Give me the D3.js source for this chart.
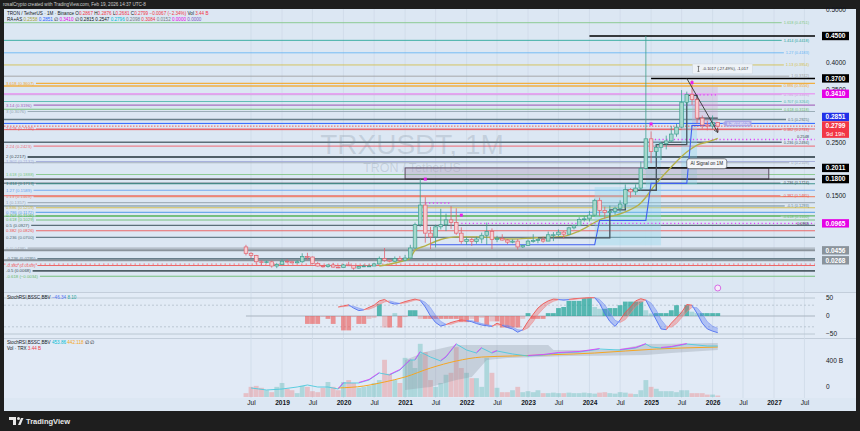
<!DOCTYPE html>
<html>
<head>
<meta charset="utf-8">
<script src="https://cdn.jsdelivr.net/npm/d3@7"></script>
<style>
  html, body { margin: 0; padding: 0; background: #1e1e1e; }
  svg { display: block; font-family: "Liberation Sans", Arial, sans-serif; }
</style>
</head>
<body>
<script>
// ----- data -----

// monthly candles: month, open, high, low, close
const ohlc = [
  ["2018-06",.052,.056,.036,.040],["2018-07",.040,.042,.031,.036],["2018-08",.036,.037,.019,.024],
  ["2018-09",.024,.027,.017,.023],["2018-10",.023,.026,.021,.024],["2018-11",.024,.026,.013,.016],
  ["2018-12",.016,.022,.012,.019],
  ["2019-01",.019,.029,.019,.025],["2019-02",.025,.029,.021,.024],["2019-03",.024,.025,.021,.022],
  ["2019-04",.022,.027,.021,.024],["2019-05",.024,.040,.022,.034],["2019-06",.034,.041,.028,.033],
  ["2019-07",.033,.034,.019,.021],["2019-08",.021,.024,.015,.016],["2019-09",.016,.018,.013,.015],
  ["2019-10",.015,.019,.013,.018],["2019-11",.018,.022,.013,.014],["2019-12",.014,.015,.012,.013],
  ["2020-01",.013,.020,.013,.018],["2020-02",.018,.024,.016,.017],["2020-03",.017,.018,.009,.012],
  ["2020-04",.012,.016,.011,.015],["2020-05",.015,.019,.014,.016],["2020-06",.016,.019,.015,.016],
  ["2020-07",.016,.022,.016,.020],["2020-08",.020,.034,.019,.030],["2020-09",.030,.050,.024,.027],
  ["2020-10",.027,.028,.023,.025],["2020-11",.025,.034,.024,.030],["2020-12",.030,.035,.025,.027],
  ["2021-01",.027,.037,.025,.031],["2021-02",.031,.056,.029,.050],["2021-03",.050,.098,.048,.094],
  ["2021-04",.094,.180,.090,.131],["2021-05",.131,.146,.060,.078],["2021-06",.078,.090,.048,.071],
  ["2021-07",.071,.094,.051,.090],["2021-08",.090,.124,.085,.094],["2021-09",.094,.115,.082,.103],
  ["2021-10",.103,.129,.086,.098],["2021-11",.098,.125,.075,.078],["2021-12",.078,.089,.058,.062],
  ["2022-01",.062,.071,.056,.066],["2022-02",.066,.069,.054,.062],["2022-03",.062,.071,.058,.067],
  ["2022-04",.067,.079,.059,.074],["2022-05",.074,.098,.056,.081],["2022-06",.081,.087,.048,.066],
  ["2022-07",.066,.073,.061,.068],["2022-08",.068,.076,.064,.065],["2022-09",.065,.067,.057,.061],
  ["2022-10",.061,.066,.059,.063],["2022-11",.063,.067,.047,.052],["2022-12",.052,.056,.050,.055],
  ["2023-01",.055,.066,.054,.063],["2023-02",.063,.076,.060,.064],["2023-03",.064,.068,.059,.066],
  ["2023-04",.066,.071,.060,.063],["2023-05",.063,.081,.063,.075],["2023-06",.075,.080,.063,.075],
  ["2023-07",.075,.085,.072,.080],["2023-08",.080,.082,.068,.076],["2023-09",.076,.090,.075,.088],
  ["2023-10",.088,.094,.085,.092],["2023-11",.092,.108,.092,.104],["2023-12",.104,.110,.100,.105],
  ["2024-01",.105,.120,.100,.112],["2024-02",.112,.143,.110,.140],["2024-03",.140,.145,.110,.121],
  ["2024-04",.121,.128,.105,.117],["2024-05",.117,.130,.112,.119],["2024-06",.119,.128,.113,.125],
  ["2024-07",.125,.140,.118,.133],["2024-08",.133,.170,.125,.160],["2024-09",.160,.163,.145,.156],
  ["2024-10",.156,.170,.150,.163],["2024-11",.163,.213,.158,.200],["2024-12",.200,.450,.198,.256],
  ["2025-01",.256,.270,.210,.232],["2025-02",.232,.245,.220,.240],["2025-03",.240,.250,.216,.247],
  ["2025-04",.247,.262,.236,.252],["2025-05",.252,.280,.250,.265],["2025-06",.265,.285,.260,.278],
  ["2025-07",.278,.348,.276,.325],["2025-08",.325,.345,.318,.340],["2025-09",.340,.367,.320,.330],
  ["2025-10",.330,.335,.285,.295],["2025-11",.295,.300,.275,.282],["2025-12",.282,.290,.272,.280],
  ["2026-01",.280,.300,.274,.287],["2026-02",.2867,.2876,.2681,.2799]
];

// monthly volume (B), same months as the candles
const volumes = [
  0.8,2.1,2.3,1.9,1.4,1.0,2.1,
  2.9,1.7,1.4,0.8,2.3,2.1,1.2,1.0,1.9,3.1,2.1,1.4,
  3.1,3.5,2.9,1.9,2.1,2.3,2.9,3.5,7.7,4.8,3.5,2.9,
  8.1,7.7,6.0,11.0,9.3,3.5,2.1,2.9,4.6,5.0,10.3,6.0,
  5.0,3.9,3.9,2.1,8.1,5.0,1.9,1.0,1.0,1.4,2.1,1.0,
  1.2,1.0,1.4,0.8,0.8,0.9,0.8,0.8,0.9,0.8,0.8,0.9,
  0.8,0.7,0.9,1.0,0.8,0.7,1.0,0.9,0.7,0.6,1.4,3.5,
  2.1,1.7,1.2,1.2,1.2,1.0,1.4,1.4,0.8,0.8,0.8,0.5,
  0.5,0.3
];

// slow moving average (olive line)
const maPoints = [
  ["2020-08",.016],["2020-12",.024],["2021-02",.031],["2021-03",.046],["2021-05",.054],
  ["2021-08",.066],["2021-11",.071],["2022-03",.071],["2022-10",.067],["2023-02",.069],
  ["2023-08",.072],["2023-11",.082],["2024-03",.103],["2024-08",.118],["2024-11",.135],
  ["2025-02",.172],["2025-05",.203],["2025-08",.231],["2025-10",.244],["2025-12",.250],["2026-02",.257]
];

// trailing stop lines
const blueSteps = [
  ["2021-06",.056],["2024-02",.056],["2024-03",.102],["2024-12",.102],
  ["2025-01",.172],["2025-08",.172],["2025-09",.281],["2026-02",.281]
];
const darkSteps = [
  ["2023-03",.069],["2024-05",.122],["2024-08",.159],["2025-02",.245],
  ["2025-08",.338],["2025-10",.295],["2026-02",.295]
];

// shaded zones: start, end, low, high
const cyanZones = [
  ["2024-02","2024-12",.055,.165],["2024-12","2025-03",.055,.255],["2025-07","2025-10",.170,.340]
];
const pinkZone = ["2025-09","2026-02",.278,.354];
const supplyBox = ["2021-01","2026-12",.1800,.2011];

// fibonacci sets
const leftFibLevels = [3.618,3.14,3,2.618,2.24,2,1.902,1.618,1.414,1.27,1.13,1,0.886,0.786,0.707,0.618,0.5,0.382,0.236,0,-0.236,-0.382,-0.5,-0.618];
const leftFibPrices = [.3607,.3196,.3076,.2746,.2423,.2217,.2132,.1888,.1713,.1589,.1469,.1357,.1259,.1172,.1106,.1029,.0927,.0826,.0700,.0498,.0295,.0169,.0068,-.0034];
const rightFibLevels = [1.618,1.414,1.27,1.13,1,0.886,0.786,0.707,0.618,0.5,0.382,0.236,0,-0.236,-0.382,-0.5,-0.618];
const rightFibPrices = [.4751,.4418,.4183,.3954,.3742,.3556,.3393,.3264,.3118,.2925,.2733,.2494,.2109,.1724,.1485,.1293,.1100];

// marked levels on the price scale
const boxPrices = [.4500,.3700,.3410,.2851,.2011,.1800,.0965,.0456,.0268];
const lastPrice = .2799;
const priceTicks = [.5,.4,.35,.25,.15];

// dotted levels: start, end (null = right edge), price
const dottedLevels = [["2021-05","2021-10",.135],["2021-12",null,.0965],["2025-01",null,.2548],["2025-09","2026-02",.339]];
const markers = [["2021-05",.180],["2021-12",.112],["2025-01",.284],["2025-09",.362]];
const arrowFromTo = [["2025-08",.370],["2026-02",.2683]];
const measureAt = ["2026-03",.388];
const aiSignalAt = ["2025-08",.209];
const tagAt = ["2026-03",.2851];

// StochRSI pane
const stochStart = "2019-12";
const stochK = [25,28,31,22,15,17,24,30,42,46,37,33,35,40,44,47,43,25,0,-18,
  -28,-24,-18,-14,-11,-13,-16,-21,-25,-27,-29,-20,-26,-32,-36,-45,-38,-15,5,22,
  34,42,47,46,44,46,48,49,50,51,51,35,7,-15,-29,-11,10,25,42,48,
  44,16,-11,-36,-38,-20,-5,10,32,30,7,-20,-36,-42,-46.34];
const stochD = [25,26,28,27,22,18,19,24,32,39,42,38,35,36,40,44,45,38,23,2,
  -15,-23,-23,-18,-14,-13,-13,-17,-21,-24,-27,-25,-25,-26,-31,-38,-40,-33,-16,4,
  20,33,41,45,46,45,46,48,49,50,51,46,31,9,-12,-18,-10,8,26,38,
  45,36,16,-10,-28,-31,-21,-5,12,24,23,6,-16,-28,-34];
const histStart = "2019-06";
const stochHist = [-22,-22,-22,-2,-8,-22,-2,-40,-40,-3,-22,-22,-8,-5,33,-32,-32,8,-32,-3,
  16,16,-8,-8,-8,-8,-8,-8,-8,-8,-17,-17,-8,-17,-5,-25,-15,-15,-32,-32,
  -32,-32,-8,8,-8,-8,-8,8,8,22,25,42,42,42,50,50,25,20,20,22,
  22,30,40,40,40,40,16,7,8,8,8,16,30,12,30,12,8,8,8,8,8];

// lower oscillator pane (B units)
const oscCyan = [
  ["2018-07",-15],["2018-10",-46],["2019-01",-31],["2019-04",0],["2019-06",31],["2019-08",0],
  ["2019-10",0],["2019-12",-31],["2020-01",62],["2020-04",62],["2020-06",108],["2020-08",215],
  ["2020-10",185],["2020-12",261],["2021-02",415],["2021-03",415],["2021-04",538],["2021-06",461],
  ["2021-08",400],["2021-09",461],["2021-11",661],["2022-01",569],["2022-03",523],["2022-04",600],
  ["2022-06",523],["2022-07",554],["2022-10",508],["2023-01",477],["2023-04",492],["2023-07",523],
  ["2023-11",538],["2024-03",584],["2024-07",569],["2024-10",600],["2024-12",661],["2025-01",615],
  ["2025-03",600],["2025-05",615],["2025-08",661],["2025-10",646],["2025-12",631],["2026-02",631]
];
const oscOrange = [
  ["2019-12",-15],["2020-05",15],["2020-09",77],["2021-01",154],["2021-06",292],["2021-11",400],
  ["2022-04",461],["2022-10",477],["2023-04",492],["2023-10",508],["2024-02",523],["2024-08",554],
  ["2025-02",584],["2025-07",600],["2026-02",615]
];
const cloudUpper = [["2021-01",415],["2021-05",538],["2021-11",646],["2023-05",646],["2023-06",569],["2024-06",569],["2024-12",661],["2026-02",677]];
const cloudLower = [["2021-01",-46],["2021-06",0],["2021-11",108],["2022-02",154],["2022-05",415],["2022-09",446],["2023-09",477],["2024-12",492],["2025-05",523],["2026-02",569]];

const timeTicks = ["2018-07","2019-01","2019-07","2020-01","2020-07","2021-01","2021-07","2022-01","2022-07",
  "2023-01","2023-07","2024-01","2024-07","2025-01","2025-07","2026-01","2026-07","2027-01","2027-07"];

// ----- layout -----
const W = 860, H = 431;
const plotL = 4, plotR = 815, axisX = 822;
const mainTop = 9, mainBot = 292, stochTop = 293, stochBot = 338, oscTop = 339, oscBot = 398;

const parseMonth = d3.utcParse("%Y-%m");
const fmt4 = d3.format(".4f");

const x = d3.scaleUtc().domain([parseMonth("2019-01"), parseMonth("2027-01")]).range([282, 774]);
const y = d3.scaleLinear().domain([0, 0.45]).range([274.5, 36]);
const yStoch = d3.scaleLinear().domain([-50, 50]).range([334, 298]);
const yOsc = d3.scaleLinear().domain([0, 400]).range([387, 361]);
const yVol = d3.scaleLinear().domain([0, 12]).range([397, 339]);

const candles = ohlc.map((r, i) => ({ date: parseMonth(r[0]), o: r[1], h: r[2], l: r[3], c: r[4], v: volumes[i] }));
const xm = m => m === null ? plotR : x(parseMonth(m));

const svg = d3.select("body").append("svg").attr("width", W).attr("height", H);

// frame and pane backgrounds
svg.append("rect").attr("width", W).attr("height", H).attr("fill", "#1e1e1e");
svg.append("rect").attr("x", plotL).attr("y", mainTop).attr("width", 856 - plotL).attr("height", 411 - mainTop).attr("fill", "#dce7f3");
svg.append("rect").attr("x", plotL).attr("y", stochTop).attr("width", 856 - plotL).attr("height", stochBot - stochTop).attr("fill", "#e2ebf6");
svg.append("rect").attr("x", plotL).attr("y", oscTop).attr("width", 856 - plotL).attr("height", oscBot - oscTop).attr("fill", "#e1eaf6");
[mainBot + 0.5, stochBot + 0.5].forEach(v => {
  svg.append("line").attr("x1", plotL).attr("x2", 856).attr("y1", v).attr("y2", v).attr("stroke", "#c3cedb").attr("stroke-width", 1);
});

svg.append("text").attr("x", 3).attr("y", 6).attr("font-size", 4.6).attr("fill", "#cfcfcf")
  .text("rosalCrypto created with TradingView.com, Feb 19, 2026 14:37 UTC-8");

// vertical grid
svg.append("g").selectAll("line").data(timeTicks).join("line")
  .attr("x1", d => xm(d)).attr("x2", d => xm(d)).attr("y1", mainTop).attr("y2", oscBot)
  .attr("stroke", "#cfdbe8").attr("stroke-width", 0.8);

// ----- main price pane -----
svg.append("clipPath").attr("id", "mainClip").append("rect")
  .attr("x", plotL).attr("y", mainTop).attr("width", plotR - plotL).attr("height", mainBot - mainTop);
const main = svg.append("g").attr("clip-path", "url(#mainClip)");

// watermark
main.append("text").attr("x", 412).attr("y", 154).attr("text-anchor", "middle")
  .attr("font-size", 28).attr("fill", "rgba(110,125,140,0.22)").text("TRXUSDT, 1M");
main.append("text").attr("x", 412).attr("y", 172).attr("text-anchor", "middle")
  .attr("font-size", 12.5).attr("fill", "rgba(110,125,140,0.22)").text("TRON / TetherUS");

// shaded zones
main.selectAll(".cyanZone").data(cyanZones).join("rect").attr("class", "cyanZone")
  .attr("x", d => xm(d[0])).attr("width", d => xm(d[1]) - xm(d[0]))
  .attr("y", d => y(d[3])).attr("height", d => y(d[2]) - y(d[3]))
  .attr("fill", "rgba(140,215,235,0.35)");
main.append("rect")
  .attr("x", xm(pinkZone[0])).attr("width", xm(pinkZone[1]) - xm(pinkZone[0]))
  .attr("y", y(pinkZone[3])).attr("height", y(pinkZone[2]) - y(pinkZone[3]))
  .attr("fill", "rgba(205,160,205,0.3)");

// fib lines
const leftFibColors = ["#f5a623","#a05cb8","#90a4ae","#e8505b","#ef6f7a","#37474f","#9fa8da","#81c784","#26867c","#64a0f0","#f08060","#9aa7b3",
  "#d4b83a","#5aa0e8","#4caf50","#66bb6a","#455a64","#ef5350","#546e7a","#a0aab4","#546e7a","#ef5350","#37474f","#66bb6a"];
const rightFibColors = ["#81c784","#26a69a","#64b5f6","#d4c04a","#9e9e9e","#f5a623","#ce93d8","#4db6ac","#66bb6a","#546e7a","#ef5350","#455a64",
  "#a0aab4","#37474f","#ef5350","#607d8b","#66bb6a"];
const thickLevels = [2, -0.236, -0.5];

rightFibLevels.forEach((lv, i) => {
  const py = y(rightFibPrices[i]);
  const t = main.append("text").attr("x", 809).attr("y", py + 1.3).attr("text-anchor", "end")
    .attr("font-size", 3.9).attr("fill", rightFibColors[i]).text(lv + " (" + fmt4(rightFibPrices[i]) + ")");
  const w = t.node().getComputedTextLength();
  main.insert("line", "text").attr("x1", plotL).attr("x2", 809 - w - 2).attr("y1", py).attr("y2", py)
    .attr("stroke", rightFibColors[i]).attr("stroke-width", (lv === 0.5 || lv === 0.236 || lv === 0.886) ? 1.6 : 1).attr("opacity", 0.85);
});

leftFibLevels.forEach((lv, i) => {
  const py = y(leftFibPrices[i]);
  const t = main.append("text").attr("x", 6).attr("y", py + 1.5)
    .attr("font-size", 4.3).attr("fill", leftFibColors[i]).text(lv + " (" + fmt4(leftFibPrices[i]) + ")");
  const w = t.node().getComputedTextLength();
  main.insert("line", "text").attr("x1", 6 + w + 2).attr("x2", plotR).attr("y1", py).attr("y2", py)
    .attr("stroke", leftFibColors[i]).attr("stroke-width", thickLevels.includes(lv) ? 1.8 : 1.1).attr("opacity", 0.85);
});

// supply box between 0.18 and 0.2011
main.append("rect")
  .attr("x", xm(supplyBox[0])).attr("width", xm(supplyBox[1]) - xm(supplyBox[0]))
  .attr("y", y(supplyBox[3])).attr("height", y(supplyBox[2]) - y(supplyBox[3]))
  .attr("fill", "rgba(170,145,180,0.35)").attr("stroke", "#5d4a63").attr("stroke-width", 1);

// key horizontal levels (from: null = whole width)
const keyLines = [
  { p: .4500, from: "2024-01", color: "#000", w: 1.5 },
  { p: .3700, from: "2025-01", color: "#000", w: 1.5 },
  { p: .3410, from: null, color: "#e6a3f2", w: 1.6 },
  { p: .2851, from: null, color: "#2962ff", w: 1 },
  { p: .2011, from: "2024-12", color: "#222", w: 1.6 },
  { p: .1800, from: null, color: "#2a2a2a", w: 1.4 },
  { p: .0456, from: null, color: "#8a939b", w: 2 },
  { p: .0268, from: null, color: "#8a939b", w: 2 }
];
main.selectAll(".keyLine").data(keyLines).join("line").attr("class", "keyLine")
  .attr("x1", d => d.from === null ? plotL : xm(d.from)).attr("x2", plotR)
  .attr("y1", d => y(d.p)).attr("y2", d => y(d.p))
  .attr("stroke", d => d.color).attr("stroke-width", d => d.w);

// current price line and low dotted level
main.append("line").attr("x1", plotL).attr("x2", plotR).attr("y1", y(lastPrice)).attr("y2", y(lastPrice))
  .attr("stroke", "#ef5350").attr("stroke-width", 0.9).attr("stroke-dasharray", "1.5,1.5");
main.append("line").attr("x1", plotL).attr("x2", plotR).attr("y1", y(.0195)).attr("y2", y(.0195))
  .attr("stroke", "#f08a96").attr("stroke-width", 1.2).attr("stroke-dasharray", "1.5,3");

// magenta dotted levels
main.selectAll(".dotLevel").data(dottedLevels).join("line").attr("class", "dotLevel")
  .attr("x1", d => xm(d[0])).attr("x2", d => xm(d[1]))
  .attr("y1", d => y(d[2])).attr("y2", d => y(d[2]))
  .attr("stroke", "#e040fb").attr("stroke-width", 1.4).attr("stroke-dasharray", "1.2,2.6");
main.append("text").attr("x", 809).attr("y", y(.2548) - 1.5).attr("text-anchor", "end").attr("font-size", 3.9).attr("fill", "#37474f").text("0.2548");
main.append("text").attr("x", 809).attr("y", y(.0965) + 1.3).attr("text-anchor", "end").attr("font-size", 3.9).attr("fill", "#37474f").text("0.0965");

// moving average
main.append("path").datum(maPoints)
  .attr("d", d3.line().x(d => xm(d[0])).y(d => y(d[1])).curve(d3.curveMonotoneX))
  .attr("fill", "none").attr("stroke", "#b5b04a").attr("stroke-width", 1.4);

// trailing lines
main.append("path").datum(blueSteps)
  .attr("d", d3.line().x(d => xm(d[0])).y(d => y(d[1])))
  .attr("fill", "none").attr("stroke", "#3f5ff0").attr("stroke-width", 1.1);
main.append("path").datum(darkSteps)
  .attr("d", d3.line().x(d => xm(d[0])).y(d => y(d[1])).curve(d3.curveStepAfter))
  .attr("fill", "none").attr("stroke", "#46525d").attr("stroke-width", 1.3);

// candles
const candleW = 3.6;
main.selectAll(".wick").data(candles).join("line").attr("class", "wick")
  .attr("x1", d => x(d.date)).attr("x2", d => x(d.date))
  .attr("y1", d => y(d.h)).attr("y2", d => y(d.l))
  .attr("stroke", d => d.c >= d.o ? "#3f9f8f" : "#e0626e").attr("stroke-width", 0.8);
main.selectAll(".body").data(candles).join("rect").attr("class", "body")
  .attr("x", d => x(d.date) - candleW / 2).attr("width", candleW)
  .attr("y", d => y(Math.max(d.o, d.c)))
  .attr("height", d => Math.max(0.8, Math.abs(y(d.o) - y(d.c))))
  .attr("fill", d => d.c >= d.o ? "#a6d8cc" : "#f6cfd3")
  .attr("stroke", d => d.c >= d.o ? "#3f9f8f" : "#e0626e").attr("stroke-width", 0.7);

// signal markers
main.selectAll(".marker").data(markers).join("rect").attr("class", "marker")
  .attr("x", d => xm(d[0]) - 1.5).attr("y", d => y(d[1]) - 1.5).attr("width", 3).attr("height", 3)
  .attr("fill", "#e91ee8");

// measuring arrow
svg.append("defs").append("marker").attr("id", "arrowHead").attr("viewBox", "0 0 10 10")
  .attr("refX", 9).attr("refY", 5).attr("markerWidth", 5).attr("markerHeight", 5).attr("orient", "auto")
  .append("path").attr("d", "M0,0 L10,5 L0,10").attr("fill", "none").attr("stroke", "#333").attr("stroke-width", 1.5);
main.append("line")
  .attr("x1", xm(arrowFromTo[0][0])).attr("y1", y(arrowFromTo[0][1]))
  .attr("x2", xm(arrowFromTo[1][0])).attr("y2", y(arrowFromTo[1][1]))
  .attr("stroke", "#333").attr("stroke-width", 0.9).attr("marker-end", "url(#arrowHead)");

const mx = xm(measureAt[0]), my = y(measureAt[1]);
main.append("rect").attr("x", mx - 30).attr("y", my - 5).attr("width", 60).attr("height", 10).attr("rx", 1)
  .attr("fill", "#eef2f7").attr("stroke", "#c9d2dc").attr("stroke-width", 0.5);
main.append("path").attr("d", `M${mx - 25},${my - 2.5} h2 M${mx - 24},${my - 2.5} v5 M${mx - 25},${my + 2.5} h2`)
  .attr("stroke", "#333").attr("stroke-width", 0.6);
main.append("text").attr("x", mx - 20).attr("y", my + 1.4).attr("font-size", 4).attr("fill", "#333")
  .text("-0.1017 (-27.49%), -1,017");

// AI signal label
const ax = xm(aiSignalAt[0]), ay = y(aiSignalAt[1]);
main.append("rect").attr("x", ax).attr("y", ay - 5).attr("width", 40).attr("height", 10).attr("rx", 2.5)
  .attr("fill", "#f4f6f9").attr("stroke", "#3a3f45").attr("stroke-width", 0.6);
main.append("text").attr("x", ax + 20).attr("y", ay + 1.6).attr("text-anchor", "middle").attr("font-size", 4.6)
  .attr("fill", "#222").text("AI Signal on 1M");

// price tag
const tx = xm(tagAt[0]), ty = y(tagAt[1]);
main.append("path").attr("d", `M${tx},${ty} l3,-3 h26 v6 h-26 z`).attr("fill", "#a7a3e6").attr("opacity", 0.9);
main.append("text").attr("x", tx + 16).attr("y", ty + 1.3).attr("text-anchor", "middle").attr("font-size", 3.6)
  .attr("fill", "#fff").text("0.2851185125");

// alert icon at bottom of pane
svg.append("circle").attr("cx", x(candles[candles.length - 1].date)).attr("cy", 288).attr("r", 3)
  .attr("fill", "#f6eafa").attr("stroke", "#d04ee0").attr("stroke-width", 0.8);

// ----- price scale -----
const priceAxis = svg.append("g").attr("transform", `translate(${axisX + 4},0)`)
  .call(d3.axisRight(y).tickValues(priceTicks).tickSize(0).tickPadding(0).tickFormat(fmt4));
priceAxis.select(".domain").remove();
priceAxis.selectAll("text").attr("font-size", 6.5).attr("fill", "#131722").attr("font-family", "Liberation Sans, Arial, sans-serif");

const boxColors = ["#000","#000","#e600e6","#2130e8","#000","#000","#e600e6","#8a939b","#8a939b"];
const redTop = y(lastPrice) - 4.8;
boxPrices.forEach((p, i) => {
  let cy = y(p);
  if (p === .2851) cy = Math.min(cy, redTop - 4.4);
  svg.append("rect").attr("x", axisX).attr("y", cy - 4.2).attr("width", 27).attr("height", 8.4).attr("fill", boxColors[i]);
  svg.append("text").attr("x", axisX + 13.5).attr("y", cy + 2.3).attr("text-anchor", "middle")
    .attr("font-size", 6.5).attr("font-weight", "bold").attr("fill", "#fff").text(fmt4(p));
});
svg.append("rect").attr("x", axisX).attr("y", redTop).attr("width", 27).attr("height", 16.5).attr("fill", "#f23645");
svg.append("text").attr("x", axisX + 13.5).attr("y", redTop + 6.9).attr("text-anchor", "middle")
  .attr("font-size", 6.5).attr("font-weight", "bold").attr("fill", "#fff").text(fmt4(lastPrice));
svg.append("text").attr("x", axisX + 13.5).attr("y", redTop + 14.2).attr("text-anchor", "middle")
  .attr("font-size", 6.2).attr("fill", "#fff").text("9d 19h");

// ----- legend -----
const legend1 = svg.append("text").attr("x", 7).attr("y", 14.5).attr("font-size", 4.6).attr("fill", "#131722");
legend1.append("tspan").text("TRON / TetherUS · 1M · Binance  ");
[["O", "0.2867"], ["H", "0.2876"], ["L", "0.2681"], ["C", "0.2799"]].forEach(p => {
  legend1.append("tspan").text(p[0]);
  legend1.append("tspan").attr("fill", "#f23645").text(p[1] + " ");
});
legend1.append("tspan").attr("fill", "#f23645").text("−0.0067 (−2.34%)  ");
legend1.append("tspan").text("Vol ");
legend1.append("tspan").attr("fill", "#f23645").text("3.44 B");

const legend2 = svg.append("text").attr("x", 7).attr("y", 20.5).attr("font-size", 4.6).attr("fill", "#131722");
legend2.append("tspan").text("RA+AS  ");
[["0.2558","#a8a23a"],["0.2851","#2962ff"],["∅","#131722"],["0.3410","#e600e6"],["∅","#131722"],["0.2815","#131722"],
 ["0.2547","#131722"],["0.2796","#00bcd4"],["0.2098","#787b86"],["0.3084","#f23645"],["0.0152","#787b86"],["0.0000","#e600e6"],["0.0000","#7e57c2"]]
  .forEach(p => legend2.append("tspan").attr("fill", p[1]).text(p[0] + "  "));

// ----- StochRSI pane -----
const stochRows = stochK.map((k, i) => ({ date: d3.utcMonth.offset(parseMonth(stochStart), i), k, d: stochD[i] }));
const histRows = stochHist.map((v, i) => ({ date: d3.utcMonth.offset(parseMonth(histStart), i), v, prev: i ? stochHist[i - 1] : 0 }));

[[50, ""], [30, "2,2"], [-30, "2,2"], [-50, ""]].forEach(l => {
  svg.append("line").attr("x1", plotL).attr("x2", plotR).attr("y1", yStoch(l[0])).attr("y2", yStoch(l[0]))
    .attr("stroke", "#b3bfcc").attr("stroke-width", 0.8).attr("stroke-dasharray", l[1]);
});
svg.append("line").attr("x1", x(candles[0].date)).attr("x2", plotR).attr("y1", yStoch(0)).attr("y2", yStoch(0))
  .attr("stroke", "#a9b4c0").attr("stroke-width", 1);

svg.append("g").selectAll("rect").data(histRows).join("rect")
  .attr("x", d => x(d.date) - 2.4).attr("width", 4.8)
  .attr("y", d => yStoch(Math.max(0, d.v))).attr("height", d => Math.abs(yStoch(d.v) - yStoch(0)))
  .attr("fill", d => {
    const strong = Math.abs(d.v) >= Math.abs(d.prev);
    if (d.v >= 0) return strong ? "rgba(38,166,154,0.75)" : "rgba(38,166,154,0.3)";
    return strong ? "rgba(239,83,80,0.6)" : "rgba(239,83,80,0.28)";
  });

const stochG = svg.append("g");
d3.pairs(stochRows).forEach(([a, b]) => {
  const up = a.k + b.k >= a.d + b.d;
  stochG.append("path")
    .attr("d", `M${x(a.date)},${yStoch(a.k)}L${x(b.date)},${yStoch(b.k)}L${x(b.date)},${yStoch(b.d)}L${x(a.date)},${yStoch(a.d)}Z`)
    .attr("fill", up ? "rgba(239,83,80,0.35)" : "rgba(80,115,240,0.35)");
  stochG.append("line").attr("x1", x(a.date)).attr("y1", yStoch(a.k)).attr("x2", x(b.date)).attr("y2", yStoch(b.k))
    .attr("stroke", up ? "#ef5350" : "#4f6ff0").attr("stroke-width", 0.9);
  stochG.append("line").attr("x1", x(a.date)).attr("y1", yStoch(a.d)).attr("x2", x(b.date)).attr("y2", yStoch(b.d))
    .attr("stroke", up ? "#f28a8a" : "#7f97f3").attr("stroke-width", 0.6);
});

const stochLabel = svg.append("text").attr("x", 7).attr("y", 298.5).attr("font-size", 4.6).attr("fill", "#131722");
stochLabel.append("tspan").text("StochRSI,BSSC,BBV  ");
stochLabel.append("tspan").attr("fill", "#4f6ff0").text("−46.34  ");
stochLabel.append("tspan").attr("fill", "#26a69a").text("8.10");

[[50, "50"], [0, "0"], [-50, "−50"]].forEach(t => {
  svg.append("text").attr("x", axisX + 4).attr("y", yStoch(t[0]) + 2.3).attr("font-size", 6.5).attr("fill", "#131722").text(t[1]);
});

// ----- lower oscillator + volume pane -----
const osc = svg.append("g");
osc.selectAll("rect").data(candles).join("rect")
  .attr("x", d => x(d.date) - 2.4).attr("width", 4.8)
  .attr("y", d => yVol(d.v)).attr("height", d => yVol(0) - yVol(d.v))
  .attr("fill", d => d.c >= d.o ? "rgba(38,166,154,0.28)" : "rgba(239,83,80,0.28)");

const cloudRows = cloudUpper.map(d => d[0]).concat(cloudLower.map(d => d[0]))
  .filter((v, i, a) => a.indexOf(v) === i).sort();
const upperScale = d3.scaleUtc().domain(cloudUpper.map(d => parseMonth(d[0]))).range(cloudUpper.map(d => d[1]));
const lowerScale = d3.scaleUtc().domain(cloudLower.map(d => parseMonth(d[0]))).range(cloudLower.map(d => d[1]));
osc.append("path").datum(cloudRows)
  .attr("d", d3.area().x(d => xm(d))
    .y0(d => yOsc(lowerScale(parseMonth(d)))).y1(d => yOsc(upperScale(parseMonth(d)))))
  .attr("fill", "rgba(140,150,162,0.32)");

osc.append("path").datum(oscOrange)
  .attr("d", d3.line().x(d => xm(d[0])).y(d => yOsc(d[1])).curve(d3.curveMonotoneX))
  .attr("fill", "none").attr("stroke", "#f5a623").attr("stroke-width", 1);
osc.append("path").datum(oscCyan)
  .attr("d", d3.line().x(d => xm(d[0])).y(d => yOsc(d[1])))
  .attr("fill", "none").attr("stroke", "#4dc9dc").attr("stroke-width", 0.9);
d3.pairs(oscCyan).filter(([a, b]) => b[1] > a[1] && xm(a[0]) > 335).forEach(([a, b]) => {
  osc.append("line").attr("x1", xm(a[0])).attr("y1", yOsc(a[1]) - 0.5).attr("x2", xm(b[0])).attr("y2", yOsc(b[1]) - 0.5)
    .attr("stroke", "#e040fb").attr("stroke-width", 0.9);
});

const oscLabel = svg.append("text").attr("x", 7).attr("y", 344).attr("font-size", 4.6).attr("fill", "#131722");
oscLabel.append("tspan").text("StochRSI,BSSC,BBV  ");
oscLabel.append("tspan").attr("fill", "#00bcd4").text("453.86  ");
oscLabel.append("tspan").attr("fill", "#f5a623").text("442.118  ");
oscLabel.append("tspan").text("∅  ∅");
const volLabel = svg.append("text").attr("x", 7).attr("y", 350).attr("font-size", 4.6).attr("fill", "#131722");
volLabel.append("tspan").text("Vol · TRX  ");
volLabel.append("tspan").attr("fill", "#f23645").text("3.44 B");

svg.append("text").attr("x", axisX + 4).attr("y", yOsc(400) + 2.3).attr("font-size", 6.5).attr("fill", "#131722").text("400 B");
svg.append("text").attr("x", axisX + 4).attr("y", yOsc(0) + 2.3).attr("font-size", 6.5).attr("fill", "#131722").text("0");

// ----- time axis -----
const timeAxis = svg.append("g").attr("transform", "translate(0,400.5)")
  .call(d3.axisBottom(x).tickValues(timeTicks.map(parseMonth)).tickSize(0).tickPadding(0)
    .tickFormat(d => d.getUTCMonth() === 0 ? d.getUTCFullYear() : "Jul"));
timeAxis.select(".domain").remove();
timeAxis.selectAll("text").attr("font-size", 6.6).attr("fill", "#131722").attr("font-family", "Liberation Sans, Arial, sans-serif")
  .attr("font-weight", d => d.getUTCMonth() === 0 ? "bold" : "normal");

// ----- footer -----
svg.append("rect").attr("x", 0).attr("y", 411).attr("width", W).attr("height", 20).attr("fill", "#1e1e1e");
svg.append("path").attr("d", "M9,417 h7 v8 h-3 v-5 h-4 z").attr("fill", "#e8e8e8");
svg.append("circle").attr("cx", 18.5).attr("cy", 418.5).attr("r", 1.5).attr("fill", "#e8e8e8");
svg.append("path").attr("d", "M18,425 l3,-7 h2.5 l-3,7 z").attr("fill", "#e8e8e8");
svg.append("text").attr("x", 26).attr("y", 424).attr("font-size", 7.5).attr("font-weight", "bold")
  .attr("fill", "#e8e8e8").text("TradingView");
</script>
</body>
</html>
